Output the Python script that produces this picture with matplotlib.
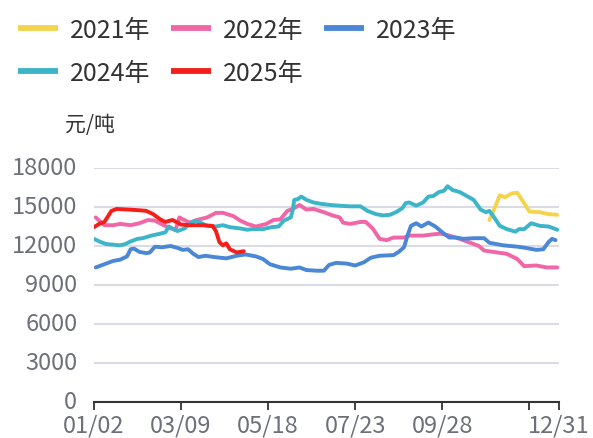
import matplotlib
matplotlib.use("Agg")
import matplotlib.pyplot as plt
from matplotlib.transforms import ScaledTranslation

plt.rcParams['font.family'] = ['Noto Sans CJK SC', 'DejaVu Sans']

# x = trading-day index across the year (0 .. 267)
tick_pos = [0, 50, 100, 150, 200, 250, 267]
tick_lab = ['01/02', '03/09', '05/18', '07/23', '09/28', '', '12/31']

x2021 = [227, 230, 233, 236, 240, 243, 246, 250, 256, 261, 266]
y2021 = [14000, 14900, 15900, 15750, 16050, 16100, 15500, 14650, 14600, 14450, 14400]

x2022 = [1, 3, 6, 11, 15, 21, 26, 31, 35, 40, 44, 47, 49, 51, 55, 59, 65, 70, 74, 80, 84, 88,
         93, 99, 103, 107, 111, 114, 118, 122, 126, 132, 137, 141, 143, 147, 153, 156, 160,
         164, 168, 172, 178, 181, 189, 195, 199, 204, 210, 216, 221, 224, 229, 237, 243, 247,
         254, 260, 266]
y2022 = [14200, 13950, 13600, 13600, 13700, 13600, 13750, 14000, 13950, 13600, 13350, 13300,
         14200, 14050, 13800, 14000, 14200, 14550, 14550, 14300, 13950, 13700, 13500, 13700,
         14000, 14050, 14700, 14850, 15150, 14800, 14850, 14600, 14350, 14200, 13800, 13700,
         13850, 13850, 13350, 12550, 12450, 12650, 12650, 12800, 12800, 12900, 12950, 12800,
         12550, 12250, 12000, 11650, 11550, 11400, 11000, 10450, 10500, 10350, 10350]

x2023 = [1, 5, 11, 15, 19, 21, 23, 26, 30, 32, 35, 39, 44, 48, 51, 54, 57, 60, 64, 69, 76, 82,
         87, 93, 97, 101, 107, 113, 118, 122, 128, 132, 135, 139, 145, 150, 155, 159, 164,
         172, 175, 178, 180, 182, 185, 188, 192, 196, 200, 204, 208, 212, 218, 224, 227, 235,
         243, 248, 254, 258, 261, 263, 265]
y2023 = [10350, 10550, 10850, 10950, 11200, 11750, 11800, 11550, 11450, 11500, 11950, 11900,
         12000, 11850, 11700, 11750, 11400, 11150, 11250, 11150, 11050, 11250, 11350, 11200,
         11000, 10600, 10350, 10250, 10350, 10150, 10100, 10100, 10550, 10700, 10650, 10500,
         10750, 11100, 11250, 11300, 11550, 11900, 12800, 13550, 13750, 13500, 13800, 13500,
         13050, 12650, 12650, 12550, 12600, 12600, 12250, 12050, 11950, 11850, 11700, 11750,
         12300, 12550, 12450]

x2024 = [0, 3, 7, 15, 18, 21, 25, 28, 33, 38, 41, 43, 46, 48, 52, 55, 58, 61, 65, 70, 74, 78,
         84, 88, 91, 97, 102, 106, 109, 113, 114, 115, 117, 119, 122, 126, 130, 136, 141, 147,
         153, 157, 162, 166, 170, 174, 177, 179, 181, 185, 189, 192, 195, 198, 201, 203, 206,
         210, 214, 218, 222, 225, 227, 229, 233, 237, 242, 244, 247, 251, 256, 261, 266]
y2024 = [12550, 12350, 12150, 12050, 12150, 12350, 12550, 12600, 12800, 12950, 13050, 13500,
         13250, 13150, 13350, 13700, 13950, 13800, 13550, 13500, 13600, 13450, 13350, 13250,
         13300, 13300, 13450, 13500, 13950, 14200, 14700, 15550, 15600, 15800, 15550, 15350,
         15250, 15150, 15100, 15050, 15050, 14700, 14450, 14350, 14400, 14650, 14900, 15300,
         15350, 15100, 15350, 15800, 15850, 16150, 16250, 16600, 16300, 16150, 15850, 15550,
         14800, 14600, 14700, 14350, 13550, 13300, 13100, 13300, 13300, 13750, 13550, 13500,
         13250]

x2025 = [0, 3, 6, 10, 13, 20, 26, 30, 34, 38, 41, 45, 48, 50, 55, 62, 68, 70, 72, 74, 76, 78,
         82, 86]
y2025 = [13450, 13700, 13850, 14700, 14850, 14800, 14750, 14700, 14450, 14050, 13850, 14000,
         13800, 13650, 13600, 13600, 13550, 13150, 12300, 12050, 12200, 11750, 11500, 11600]

series = [
    ('2021年', x2021, y2021, '#F5D34F'),
    ('2022年', x2022, y2022, '#F066A6'),
    ('2023年', x2023, y2023, '#4A87D5'),
    ('2024年', x2024, y2024, '#3CB5C9'),
    ('2025年', x2025, y2025, '#F41E1A'),
]

fig = plt.figure(figsize=(5.93, 4.39), dpi=100)
W, H = 593, 439
ax = fig.add_axes([94 / W, (H - 403) / H, (559 - 94) / W, (403 - 169) / H])

handles = {}
for name, xs, ys, c in series:
    ln, = ax.plot(xs, ys, color=c, lw=2.8, solid_joinstyle='round', solid_capstyle='round',
                  label=name, zorder=3)
    handles[name] = ln

ax.set_xlim(0, 267)
ax.set_ylim(0, 18000)
ax.set_yticks(range(0, 18001, 3000))
ax.set_xticks(tick_pos)
ax.set_xticklabels(tick_lab)
ax.grid(axis='y', color='#D9DCE6', lw=1.5, zorder=0)
for s in ['top', 'right', 'left']:
    ax.spines[s].set_visible(False)
ax.spines['bottom'].set_color('#333333')
ax.spines['bottom'].set_linewidth(1.5)
ax.tick_params(axis='y', length=0, labelsize=17, labelcolor='#6E7079', pad=12)
ax.tick_params(axis='x', length=6, width=1.3, color='#333333', labelsize=17,
               labelcolor='#6E7079', pad=2)
# nudge y labels up a touch, like the original
shift = ScaledTranslation(0, 2 / 72, fig.dpi_scale_trans)
for lbl in ax.get_yticklabels():
    lbl.set_transform(lbl.get_transform() + shift)

order = ['2021年', '2024年', '2022年', '2025年', '2023年']
leg = fig.legend([handles[k] for k in order], order, loc='upper left',
                 bbox_to_anchor=(0.0, 1.0), ncol=3, frameon=False, fontsize=18,
                 handlelength=1.6, handletextpad=0.5, columnspacing=0.8,
                 labelspacing=0.7, borderpad=0.2)
for t in leg.get_texts():
    t.set_color('#333333')
for l in leg.get_lines():
    l.set_linewidth(4.2)
    l.set_solid_capstyle('butt')

fig.text(65 / W, 1 - 125 / H, '元/吨', fontsize=15, color='#333333', va='center')

fig.savefig('out.png', dpi=100)
